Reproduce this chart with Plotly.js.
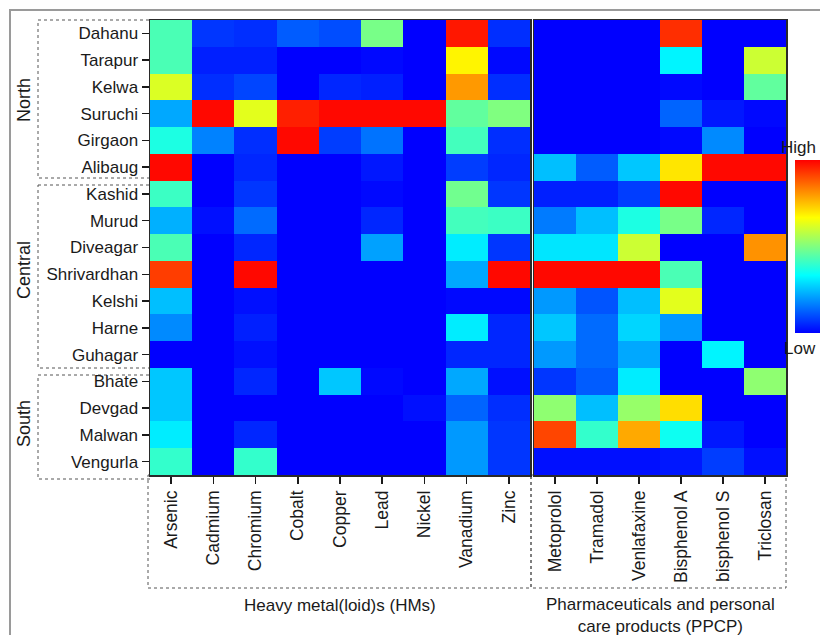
<!DOCTYPE html>
<html>
<head>
<meta charset="utf-8">
<script src="https://cdn.plot.ly/plotly-3.0.1.min.js"></script>
<style>
  html, body { margin: 0; padding: 0; background: #fff; }
  #chart { width: 820px; height: 635px; }
</style>
</head>
<body>
<div id="chart"></div>
<script>
// Sampling sites, north to south
const sites = ["Dahanu", "Tarapur", "Kelwa", "Suruchi", "Girgaon", "Alibaug",
  "Kashid", "Murud", "Diveagar", "Shrivardhan", "Kelshi", "Harne", "Guhagar",
  "Bhate", "Devgad", "Malwan", "Vengurla"];

const metals = ["Arsenic", "Cadmium", "Chromium", "Cobalt", "Copper", "Lead",
  "Nickel", "Vanadium", "Zinc"];

const ppcps = ["Metoprolol", "Tramadol", "Venlafaxine", "Bisphenol A",
  "bisphenol S", "Triclosan"];

// Relative (0 = low, 1 = high) levels, one row per site
const metalLevels = [
  [0.43, 0.07, 0.06, 0.12, 0.10, 0.49, 0.00, 0.97, 0.06], // Dahanu
  [0.43, 0.04, 0.04, 0.00, 0.00, 0.01, 0.00, 0.68, 0.01], // Tarapur
  [0.62, 0.06, 0.09, 0.00, 0.05, 0.04, 0.00, 0.80, 0.06], // Kelwa
  [0.22, 0.99, 0.63, 0.96, 0.99, 0.99, 0.99, 0.46, 0.50], // Suruchi
  [0.37, 0.17, 0.06, 0.99, 0.08, 0.15, 0.00, 0.42, 0.06], // Girgaon
  [0.99, 0.00, 0.05, 0.00, 0.00, 0.03, 0.00, 0.08, 0.05], // Alibaug
  [0.41, 0.00, 0.07, 0.00, 0.00, 0.01, 0.00, 0.48, 0.07], // Kashid
  [0.23, 0.02, 0.14, 0.00, 0.00, 0.05, 0.00, 0.42, 0.41], // Murud
  [0.43, 0.00, 0.05, 0.00, 0.00, 0.21, 0.00, 0.31, 0.07], // Diveagar
  [0.92, 0.00, 0.99, 0.00, 0.00, 0.00, 0.00, 0.22, 0.99], // Shrivardhan
  [0.25, 0.00, 0.02, 0.00, 0.00, 0.00, 0.00, 0.01, 0.01], // Kelshi
  [0.18, 0.00, 0.04, 0.00, 0.00, 0.00, 0.00, 0.31, 0.05], // Harne
  [0.00, 0.00, 0.02, 0.00, 0.00, 0.00, 0.00, 0.05, 0.05], // Guhagar
  [0.26, 0.00, 0.05, 0.00, 0.26, 0.01, 0.00, 0.22, 0.02], // Bhate
  [0.26, 0.00, 0.00, 0.00, 0.00, 0.00, 0.02, 0.13, 0.06], // Devgad
  [0.31, 0.00, 0.05, 0.00, 0.00, 0.00, 0.00, 0.20, 0.07], // Malwan
  [0.40, 0.00, 0.40, 0.00, 0.00, 0.00, 0.00, 0.20, 0.07]  // Vengurla
];

const ppcpLevels = [
  [0.00, 0.00, 0.00, 0.94, 0.00, 0.00], // Dahanu
  [0.00, 0.00, 0.00, 0.32, 0.00, 0.60], // Tarapur
  [0.00, 0.00, 0.00, 0.01, 0.00, 0.46], // Kelwa
  [0.00, 0.00, 0.00, 0.13, 0.03, 0.01], // Suruchi
  [0.00, 0.00, 0.00, 0.01, 0.18, 0.00], // Girgaon
  [0.25, 0.12, 0.26, 0.70, 0.99, 0.99], // Alibaug
  [0.04, 0.04, 0.08, 0.99, 0.00, 0.00], // Kashid
  [0.16, 0.25, 0.37, 0.49, 0.05, 0.00], // Murud
  [0.30, 0.30, 0.60, 0.00, 0.00, 0.81], // Diveagar
  [0.99, 0.99, 0.99, 0.43, 0.00, 0.00], // Shrivardhan
  [0.20, 0.11, 0.25, 0.63, 0.00, 0.00], // Kelshi
  [0.26, 0.14, 0.28, 0.20, 0.00, 0.00], // Harne
  [0.20, 0.14, 0.22, 0.00, 0.32, 0.00], // Guhagar
  [0.07, 0.12, 0.31, 0.00, 0.00, 0.52], // Bhate
  [0.52, 0.25, 0.53, 0.71, 0.00, 0.00], // Devgad
  [0.91, 0.40, 0.78, 0.35, 0.03, 0.00], // Malwan
  [0.02, 0.02, 0.02, 0.03, 0.08, 0.02]  // Vengurla
];

const regions = ["North", "Central", "South"];

// ---- layout helpers (pixel -> paper fraction, margins are zero) ----
const W = 820, H = 635;
const px = v => v / W;
const py = v => 1 - v / H;

const jet = [
  [0.0, "rgb(0,0,255)"],
  [0.333, "rgb(0,255,255)"],
  [0.5, "rgb(128,255,128)"],
  [0.667, "rgb(255,255,0)"],
  [0.833, "rgb(255,128,0)"],
  [1.0, "rgb(255,0,0)"]
];

const font = { family: "Arial, 'Liberation Sans', sans-serif", color: "#1a1a1a" };

const traces = [
  {
    type: "heatmap", x: metals, y: sites, z: metalLevels,
    xaxis: "x", yaxis: "y", zmin: 0, zmax: 1, colorscale: jet,
    showscale: true,
    colorbar: {
      // runs right up to the page edge
      x: px(795), xanchor: "left", xpad: 0, ypad: 0,
      y: py(160), yanchor: "top", len: 173 / H, lenmode: "fraction",
      thickness: 25, thicknessmode: "pixels",
      outlinewidth: 0, showticklabels: false, ticks: ""
    }
  },
  {
    type: "heatmap", x: ppcps, y: sites, z: ppcpLevels,
    xaxis: "x2", yaxis: "y2", zmin: 0, zmax: 1, colorscale: jet,
    showscale: false
  }
];

const axisLine = { showline: true, linecolor: "#2a2a2a", linewidth: 1.5, mirror: true };
const xTicks = {
  ticks: "outside", ticklen: 7, tickwidth: 1.5, tickcolor: "#1a1a1a",
  tickangle: -90, tickfont: { ...font, size: 17.5 }, showgrid: false, zeroline: false
};

// dashed grouping boxes
const dash = { color: "#555", width: 1, dash: "dot" };
function box(x0, y0, x1, y1) {
  return { type: "rect", xref: "paper", yref: "paper",
    x0: px(x0), x1: px(x1), y0: py(y0), y1: py(y1), line: dash, layer: "below" };
}

const shapes = [
  // outer frame
  { type: "rect", xref: "paper", yref: "paper", x0: px(10), x1: px(840), y0: py(10), y1: py(660),
    line: { color: "#9a9a9a", width: 2 } },
  box(38, 20, 150, 178),
  box(38, 185, 150, 368),
  box(38, 375, 150, 479),
  box(148, 475, 531, 588),
  box(531, 475, 786, 588)
];

const ann = (text, x, y, opts = {}) => Object.assign({
  text, xref: "paper", yref: "paper", x: px(x), y: py(y), showarrow: false,
  xanchor: "center", yanchor: "middle",
  font: { ...font, size: 16 }
}, opts);

const sideFont = { ...font, size: 18 };
const scaleFont = { ...font, size: 17 };

const annotations = [
  ann(regions[0], 24, 100, { textangle: -90, font: sideFont }),
  ann(regions[1], 24, 270, { textangle: -90, font: sideFont }),
  ann(regions[2], 24, 424, { textangle: -90, font: sideFont }),
  ann("Heavy metal(loid)s (HMs)", 340, 605, { font: { ...font, size: 17 } }),
  ann("Pharmaceuticals and personal<br>care products (PPCP)", 660, 615, { font: { ...font, size: 17 } }),
  ann("High", 818, 147, { xanchor: "right", font: scaleFont }),
  ann("Low", 818, 348, { xanchor: "right", font: scaleFont })
];

const layout = {
  width: W, height: H,
  margin: { l: 0, r: 0, t: 0, b: 0 },
  paper_bgcolor: "#fff", plot_bgcolor: "#fff",
  font: font,
  showlegend: false,
  xaxis: { ...axisLine, ...xTicks, domain: [px(150), px(530)], anchor: "y" },
  xaxis2: { ...axisLine, ...xTicks, domain: [px(534), px(786)], anchor: "y2" },
  yaxis: {
    ...axisLine, domain: [py(475), py(20)], anchor: "x", autorange: "reversed",
    ticks: "outside", ticklen: 7, tickwidth: 1.5, tickcolor: "#1a1a1a",
    tickfont: { ...font, size: 17 }, showgrid: false, zeroline: false
  },
  yaxis2: {
    ...axisLine, domain: [py(475), py(20)], anchor: "x2", autorange: "reversed",
    showticklabels: false, ticks: "", showgrid: false, zeroline: false
  },
  shapes, annotations
};

Plotly.newPlot("chart", traces, layout, { displayModeBar: false, staticPlot: true });
</script>
</body>
</html>
